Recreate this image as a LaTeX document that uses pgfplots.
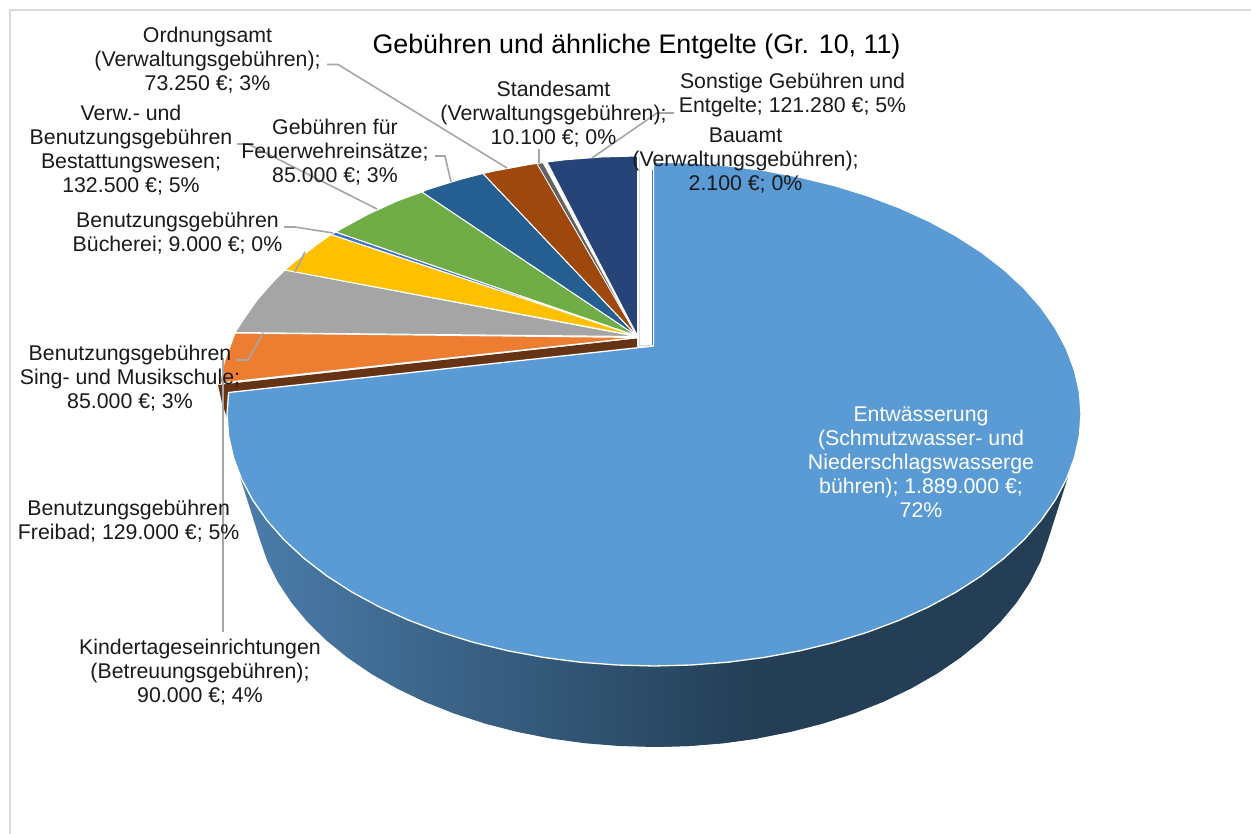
\documentclass[border=0pt]{standalone}
\usepackage{pgfplots}
\pgfplotsset{compat=1.18}
\usepackage{fontspec}
\setmainfont{Liberation Sans}
\definecolor{cBlue}{HTML}{5B9BD5}
\definecolor{cOrange}{HTML}{ED7D31}
\definecolor{cGray}{HTML}{A5A5A5}
\definecolor{cYellow}{HTML}{FFC000}
\definecolor{cThin}{HTML}{4472C4}
\definecolor{cGreen}{HTML}{70AD47}
\definecolor{cDBlue}{HTML}{255E91}
\definecolor{cBrown}{HTML}{9E480E}
\definecolor{cDGray}{HTML}{636363}
\definecolor{cNavy}{HTML}{264478}
\definecolor{cSideL}{HTML}{4B7DAB}
\definecolor{cSideD}{HTML}{233E55}
\definecolor{cBand}{HTML}{663414}
\definecolor{cLead}{HTML}{A6A6A6}
\definecolor{cFrame}{HTML}{D9D9D9}
\definecolor{cTxt}{HTML}{1A1A1A}
\newcommand{\lab}{\fontsize{21.3}{24}\selectfont}
\begin{document}
\begin{tikzpicture}
\path[use as bounding box] (0,0) rectangle (1251pt,834pt);
\begin{axis}[
  at={(0,0)}, anchor=south west,
  width=1251pt, height=834pt, scale only axis,
  xmin=0, xmax=1251, ymin=0, ymax=834, y dir=reverse,
  hide axis, clip=true,
  every axis plot/.append style={line join=round},
]
% frame
\addplot[cFrame, line width=1.5pt] coordinates {(10,834) (10,10) (1251,10)};
% side
\addplot[fill=cSideD, draw=none] coordinates {
(653,400)(1068,477)(1047.9,540.4)(1040.4,561.7)(1029.9,582.5)(1016.5,602.7)(1000.4,622)(981.7,640.4)(960.4,657.7)(936.8,673.8)(911.1,688.5)(883.4,701.8)(854,713.5)(823,723.6)(790.8,731.9)(757.5,738.5)(723.5,743.2)(688.9,746)(653,747)(653,400)};
\addplot[left color=cSideL, right color=cSideD, draw=none] coordinates {
(757.5,400)(757.5,738.5)(723.5,743.2)(688.9,746)(654,747)(619.1,746)(584.5,743.2)(550.5,738.5)(517.2,731.9)(485,723.6)(454,713.5)(424.6,701.8)(396.9,688.5)(371.2,673.8)(347.6,657.7)(326.3,640.4)(307.5,622)(291.5,602.7)(278.1,582.5)(267.6,561.7)(260.1,540.4)(240,477)(240,400)(757.5,400)};
% brown band
\addplot[fill=cBand, draw=none] coordinates {(218,385)(637,338.5)(637,348)(240,395)(228,421)(222,403)(218,385)};
% blue slice
\addplot[fill=cBlue, draw=white, line width=1.3pt] coordinates {
(653.5,346)(653.5,162)(691.2,163)(728.1,165.8)(764.5,170.6)(800,177.2)(834.5,185.6)(867.5,195.8)(898.9,207.6)(928.5,221)(955.9,235.8)(981.1,252)(1003.8,269.5)(1023.8,288)(1041,307.5)(1055.2,327.8)(1066.4,348.8)(1074.5,370.3)(1079.4,392)(1081,414)
(1079.4,436)(1074.5,457.7)(1066.4,479.2)(1055.2,500.2)(1041,520.5)(1023.8,540)(1003.8,558.5)(981.1,576)(955.9,592.2)(928.5,607)(898.9,620.4)(867.5,632.2)(834.5,642.4)(800,650.8)(764.5,657.4)(728.1,662.2)(691.2,665)(654,666)
(616.8,665)(579.9,662.2)(543.5,657.4)(508,650.8)(473.5,642.4)(440.5,632.2)(409.1,620.4)(379.5,607)(352.1,592.2)(326.9,576)(304.2,558.5)(284.2,540)(267,520.5)(252.8,500.2)(241.6,479.2)(233.5,457.7)(228.6,436)(227,414)(228.6,392.5)(653.5,346)};
% Bauamt thin slice
\addplot[draw=cDBlue!60!cBlue, line width=0.9pt] coordinates {(652,170)(652,345)};
\addplot[draw=cFrame, line width=0.5pt] coordinates {(639,157)(639,345)(652,345)};
% small wedges
\addplot[fill=cOrange, draw=white, line width=1pt] coordinates {(637,337.5)(235,333)(232.3,340.6)(224.4,361.8)(219.6,383)(637,337.5)};
\addplot[fill=cGray, draw=white, line width=1pt] coordinates {(637,336.5)(285,270)(274.3,280.5)(257.3,299.8)(243.3,319.8)(235,332.5)(637,336.5)};
\addplot[fill=cYellow, draw=white, line width=1pt] coordinates {(637,336)(331,234.5)(316.3,245)(294,262.2)(285,270)(637,336)};
\addplot[fill=cThin, draw=white, line width=1pt] coordinates {(637,336)(336,232)(331,234.5)(637,336)};
\addplot[fill=cGreen, draw=white, line width=1pt] coordinates {(637,336)(422,192)(397.1,201)(368,214.3)(341,229)(336,232)(637,336)};
\addplot[fill=cDBlue, draw=white, line width=1pt] coordinates {(637,336)(483,173.5)(460.5,179.3)(428,189.4)(422,192)(637,336)};
\addplot[fill=cBrown, draw=white, line width=1pt] coordinates {(637,336)(537,163.5)(529.3,164.5)(494.4,171)(483,173.5)(637,336)};
\addplot[fill=cDGray, draw=white, line width=.6pt] coordinates {(637,336)(543,163)(537,163.5)(637,336)};
\addplot[fill=cNavy, draw=white, line width=1pt] coordinates {(637.5,336)(637.5,156)(601.4,157)(565.1,159.8)(547,162)(637.5,336)};
% leaders
\addplot[cLead, line width=1.6pt] coordinates {(327,64.5)(338,64.5)(507,168)};
\addplot[cLead, line width=1.6pt] coordinates {(539,149)(539,163)};
\addplot[cLead, line width=1.6pt] coordinates {(674,113)(657,113)(592,158)};
\addplot[cLead, line width=1.6pt] coordinates {(435,156)(445,156)(451,182)};
\addplot[cLead, line width=1.6pt] coordinates {(237,144)(248,144)(377,209)};
\addplot[cLead, line width=1.6pt] coordinates {(284,227)(295,227)(333,233)};
\addplot[cLead, line width=1.6pt] coordinates {(305,252)(295,272)};
\addplot[cLead, line width=1.6pt] coordinates {(236,360)(248,360)(263,333)};
\addplot[cLead, line width=1.6pt] coordinates {(223,632)(223,358)};
% text
\begin{scope}[every node/.style={align=center, inner sep=0pt, text=cTxt, font=\lab}]
\node[text=black, font=\fontsize{26.8}{30}\selectfont] at (axis cs:636.5,47) {Gebühren und ähnliche Entgelte (Gr. 10, 11)};
\node at (axis cs:207.5,59.7) {Ordnungsamt\\(Verwaltungsgebühren);\\73.250 €; 3\%};
\node at (axis cs:131,150.2) {Verw.- und\\Benutzungsgebühren\\Bestattungswesen;\\132.500 €; 5\%};
\node at (axis cs:335,151.7) {Gebühren für\\Feuerwehreinsätze;\\85.000 €; 3\%};
\node at (axis cs:177.5,232.7) {Benutzungsgebühren\\Bücherei; 9.000 €; 0\%};
\node at (axis cs:553.5,113.7) {Standesamt\\(Verwaltungsgebühren);\\10.100 €; 0\%};
\node at (axis cs:792.5,94.7) {Sonstige Gebühren und\\Entgelte; 121.280 €; 5\%};
\node at (axis cs:745.5,160.7) {Bauamt\\(Verwaltungsgebühren);\\2.100 €; 0\%};
\node at (axis cs:130,377.7) {Benutzungsgebühren\\Sing- und Musikschule;\\85.000 €; 3\%};
\node at (axis cs:128.7,520.7) {Benutzungsgebühren\\Freibad; 129.000 €; 5\%};
\node at (axis cs:200,671.7) {Kindertageseinrichtungen\\(Betreuungsgebühren);\\90.000 €; 4\%};
\node[text=white] at (axis cs:921,462.5) {Entwässerung\\(Schmutzwasser- und\\Niederschlagswasserge\\bühren); 1.889.000 €;\\72\%};
\end{scope}
\end{axis}
\end{tikzpicture}
\end{document}
